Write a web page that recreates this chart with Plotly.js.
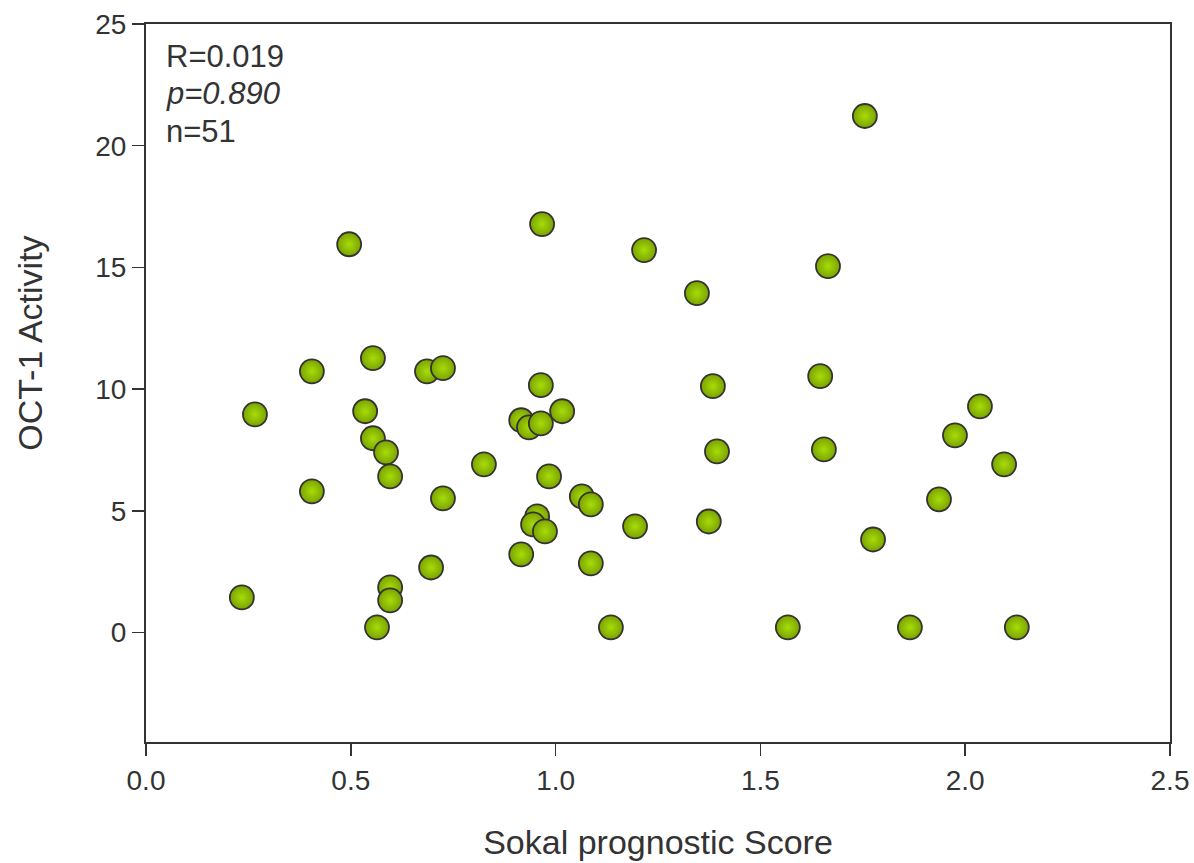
<!DOCTYPE html>
<html>
<head>
<meta charset="utf-8">
<script src="https://cdn.plot.ly/plotly-3.0.1.min.js"></script>
<style>html,body{margin:0;padding:0;background:#fff;}#chart{width:1194px;height:863px;}</style>
</head>
<body>
<div id="chart"></div>
<script>
var sokalScore = [0.234, 0.266, 0.405, 0.405, 0.496, 0.535, 0.554, 0.554, 0.564, 0.586,
  0.596, 0.596, 0.596, 0.686, 0.725, 0.725, 0.696, 0.825, 0.916, 0.935,
  0.964, 0.964, 0.967, 0.916, 0.955, 0.945, 0.974, 0.984, 1.016, 1.064,
  1.086, 1.086, 1.135, 1.194, 1.216, 1.345, 1.374, 1.384, 1.394, 1.567,
  1.646, 1.655, 1.665, 1.755, 1.775, 1.865, 1.936, 1.975, 2.036, 2.095, 2.126];
var oct1Activity = [1.44, 8.96, 10.73, 5.80, 15.95, 9.09, 11.27, 7.98, 0.21, 7.40,
  6.41, 1.85, 1.32, 10.73, 10.86, 5.51, 2.67, 6.91, 8.72, 8.43,
  8.59, 10.16, 16.78, 3.21, 4.77, 4.44, 4.15, 6.41, 9.09, 5.59,
  5.26, 2.84, 0.21, 4.36, 15.71, 13.94, 4.56, 10.12, 7.44, 0.21,
  10.53, 7.52, 15.05, 21.22, 3.82, 0.21, 5.47, 8.10, 9.29, 6.91, 0.21];
var statLines = ['R=0.019', '<i>p=0.890</i>', 'n=51'];
var xTicks = [0, 0.5, 1.0, 1.5, 2.0, 2.5];
var yTicks = [0, 5, 10, 15, 20, 25];
var xTitle = 'Sokal prognostic Score';
var yTitle = 'OCT-1 Activity';

var trace = {
  x: sokalScore,
  y: oct1Activity,
  type: 'scatter',
  mode: 'markers',
  marker: {
    size: 24,
    color: '#7aa300',
    gradient: {type: 'radial', color: '#a8dc08'},
    line: {color: '#333333', width: 1.8}
  },
  hoverinfo: 'x+y'
};

var fam = 'Liberation Sans, Arial, sans-serif';
var txt = '#333333';

var annotations = statLines.map(function (t, i) {
  return {
    xref: 'paper', yref: 'paper',
    x: 0.018, y: 1 - 0.018 - i * 0.052,
    xanchor: 'left', yanchor: 'top',
    text: t, showarrow: false,
    font: {family: fam, color: txt, size: 31}
  };
});
annotations.push({
  xref: 'paper', yref: 'paper',
  x: -0.1133, y: 0.556,
  xanchor: 'center', yanchor: 'middle',
  textangle: -90,
  text: yTitle, showarrow: false,
  font: {family: fam, color: txt, size: 34}
});

var layout = {
  width: 1194, height: 863,
  margin: {l: 146, r: 24, t: 24, b: 121},
  paper_bgcolor: '#ffffff',
  plot_bgcolor: '#ffffff',
  showlegend: false,
  font: {family: fam, color: txt},
  xaxis: {
    range: [0, 2.5],
    tickvals: xTicks,
    ticktext: xTicks.map(function (v) { return v.toFixed(1); }),
    ticks: 'outside', ticklen: 12, tickwidth: 1.5, tickcolor: txt,
    showline: true, linecolor: txt, linewidth: 2, mirror: true,
    showgrid: false, zeroline: false,
    tickfont: {family: fam, color: txt, size: 28},
    title: {text: xTitle, font: {family: fam, color: txt, size: 34}, standoff: 36}
  },
  yaxis: {
    range: [-4.5, 25],
    tickvals: yTicks,
    ticks: 'outside', ticklen: 12, tickwidth: 1.5, tickcolor: txt,
    showline: true, linecolor: txt, linewidth: 2, mirror: true,
    showgrid: false, zeroline: false,
    tickfont: {family: fam, color: txt, size: 28}
  },
  annotations: annotations
};

Plotly.newPlot('chart', [trace], layout, {displayModeBar: false, staticPlot: true});
</script>
</body>
</html>
